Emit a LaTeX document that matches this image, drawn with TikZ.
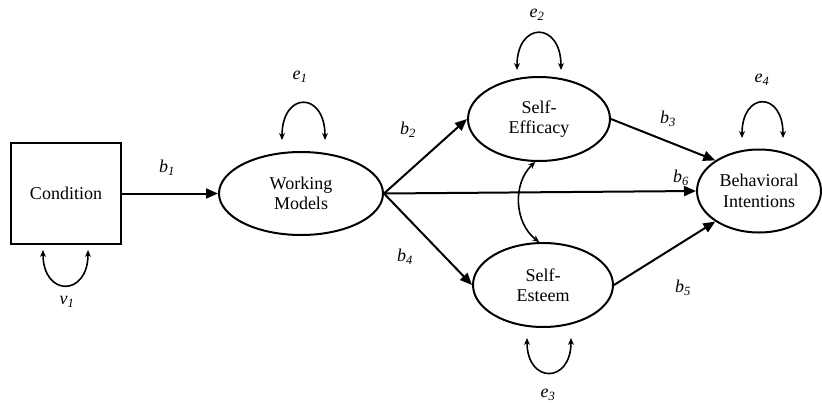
\documentclass[tikz,border=0pt]{standalone}
\usepackage{fontspec}
\setmainfont{Liberation Serif}
\usetikzlibrary{arrows.meta,shapes.geometric}
\begin{document}
\begin{tikzpicture}[x=1pt,y=-1pt,
  every node/.style={font=\fontsize{18}{20.5}\selectfont},
  latent/.style={draw,ellipse,line width=2pt,inner sep=0pt,align=center},
  obsbox/.style={draw,rectangle,line width=2.2pt,inner sep=0pt,minimum width=110pt,minimum height=101pt},
  path/.style={line width=2pt,-{Triangle[length=12pt,width=10pt]}},
  loop/.style={line width=1.6pt,{Stealth[length=7pt,width=6pt]}-{Stealth[length=7pt,width=6pt]}},
  lbl/.style={font=\fontsize{18}{20}\selectfont\itshape}]
\useasboundingbox (0,0) rectangle (822,402);
\node[obsbox] (cond) at (66,193.5) {Condition};
\node[latent,minimum width=164pt,minimum height=83pt] (wm) at (301,193.5) {Working\\Models};
\node[latent,minimum width=142pt,minimum height=84pt] (se) at (539,119) {Self-\\Efficacy};
\node[latent,minimum width=140pt,minimum height=84pt] (sest) at (543,285) {Self-\\Esteem};
\node[latent,minimum width=124pt,minimum height=83pt] (bi) at (759,191) {Behavioral\\Intentions};

\draw[path] (cond.east) -- (wm.west);
\draw[path] (wm.east) -- (se.west);
\draw[path] (wm.east) -- (sest.west);
\draw[path] (wm.east) -- (bi.west);
\draw[path] (se.east) -- (bi.145);
\draw[path] (sest.east) -- (bi.215);
\draw[loop] (se.265) to[bend right=50] (sest.95);

\coordinate (v1a) at (43,250); \coordinate (v1b) at (88,250);
\coordinate (e1a) at (282,140); \coordinate (e1b) at (325,140);
\coordinate (e2a) at (517,70); \coordinate (e2b) at (561,70);
\coordinate (e3a) at (527,338); \coordinate (e3b) at (571,338);
\coordinate (e4a) at (742,138); \coordinate (e4b) at (783,138);
\draw[loop] (v1a) .. controls (43,297) and (88,297) .. (v1b);
\draw[loop] (e1a) .. controls (282,91) and (325,91) .. (e1b);
\draw[loop] (e2a) .. controls (517,21) and (561,21) .. (e2b);
\draw[loop] (e3a) .. controls (527,384) and (571,384) .. (e3b);
\draw[loop] (e4a) .. controls (742,91) and (783,91) .. (e4b);

\node[lbl] (lv1) at (67,302) {v\textsubscript{1}};
\node[lbl] (lb1) at (167,168) {b\textsubscript{1}};
\node[lbl] (le1) at (300,77) {e\textsubscript{1}};
\node[lbl] (lb2) at (408,130) {b\textsubscript{2}};
\node[lbl] (lb4) at (405,257) {b\textsubscript{4}};
\node[lbl] (le2) at (537,15) {e\textsubscript{2}};
\node[lbl] (le3) at (548,395) {e\textsubscript{3}};
\node[lbl] (lb3) at (668,119) {b\textsubscript{3}};
\node[lbl] (lb6) at (681,178) {b\textsubscript{6}};
\node[lbl] (lb5) at (683,288) {b\textsubscript{5}};
\node[lbl] (le4) at (762,80) {e\textsubscript{4}};
\end{tikzpicture}
\end{document}
